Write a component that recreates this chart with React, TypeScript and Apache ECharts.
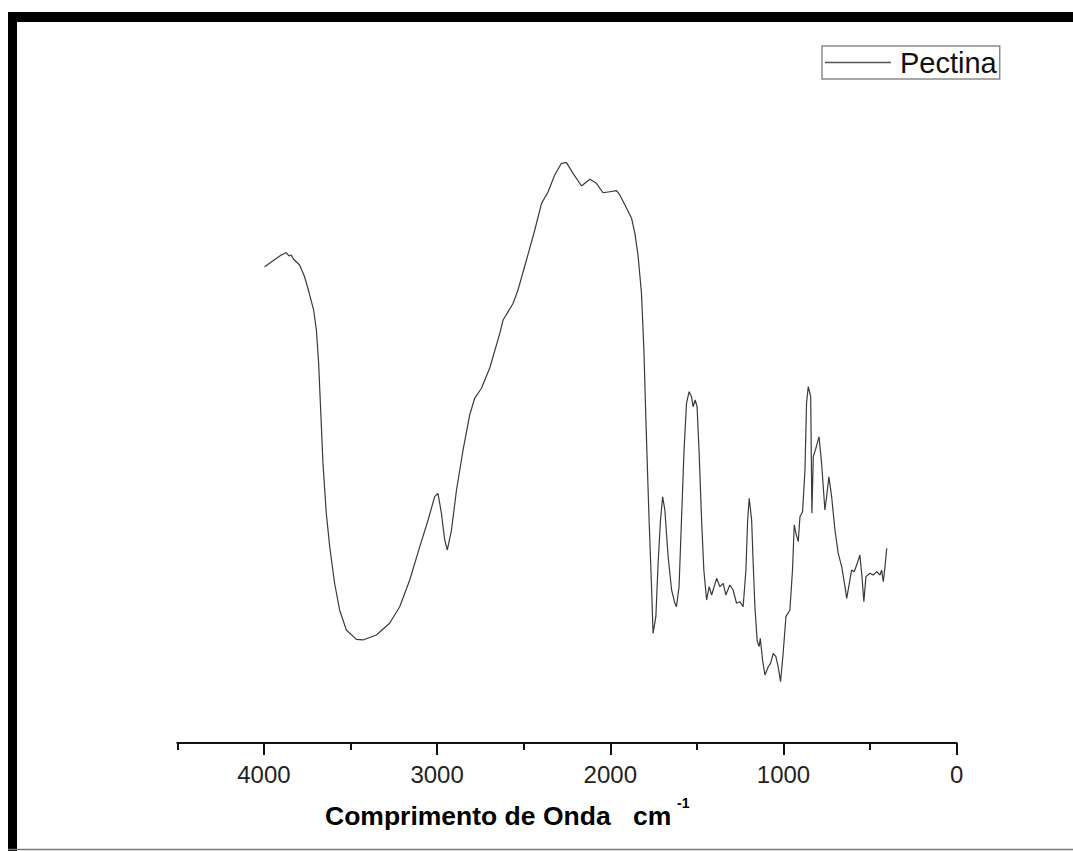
import React, { useEffect, useRef } from "react";
import * as echarts from "echarts";

// Wavenumber (cm-1)
const wavenumbers = [
  3996, 3900, 3871, 3855, 3842, 3830, 3794, 3765, 3740, 3736, 3713, 3697, 3684, 3674, 3659, 3640,
  3620, 3592, 3563, 3524, 3466, 3428, 3351, 3274, 3216, 3158, 3100, 3052, 3014, 2995, 2975, 2956,
  2941, 2917, 2888, 2850, 2812, 2783, 2744, 2696, 2638, 2619, 2561, 2533, 2484, 2436, 2397, 2359,
  2321, 2282, 2253, 2215, 2166, 2147, 2118, 2080, 2042, 2003, 1964, 1945, 1906, 1877, 1858, 1839,
  1820, 1806, 1795, 1783, 1776, 1762, 1753, 1737, 1724, 1710, 1698, 1685, 1666, 1646, 1627, 1618,
  1603, 1589, 1575, 1560, 1545, 1531, 1522, 1510, 1499, 1487, 1473, 1460, 1444, 1429, 1415, 1386,
  1367, 1348, 1333, 1310, 1291, 1271, 1252, 1233, 1217, 1207, 1198, 1184, 1175, 1165, 1152, 1141,
  1134, 1121, 1107, 1088, 1075, 1059, 1044, 1031, 1017, 1002, 986, 963, 948, 938, 928, 915,
  905, 890, 876, 867, 857, 843, 836, 828, 813, 795, 780, 761, 751, 738, 722, 703,
  684, 664, 645, 635, 620, 607, 592, 574, 559, 547, 536, 524, 501, 482, 462, 443,
  433, 424, 414, 404,
];

// Transmittance (arbitrary units)
const transmittance = [
  66.06, 67.68, 68.0, 67.55, 67.68, 67.13, 66.3, 64.67, 62.55, 62.14, 60.06, 57.28, 52.7, 47.16, 38.83, 31.9,
  27.23, 22.19, 18.45, 15.67, 14.38, 14.29, 14.98, 16.6, 18.9, 22.61, 27.23, 30.93, 34.16, 34.63, 31.86, 28.16,
  26.77, 29.54, 35.09, 40.64, 45.49, 47.81, 49.2, 52.01, 56.82, 58.67, 60.99, 62.83, 66.99, 71.15, 74.85, 76.46,
  78.78, 80.4, 80.49, 79.01, 77.25, 77.63, 78.18, 77.63, 76.32, 76.46, 76.6, 76.01, 74.16, 72.77, 70.69, 67.45,
  62.37, 54.51, 45.26, 36.02, 30.93, 21.68, 15.21, 17.52, 24.92, 30.93, 34.16, 32.32, 25.84, 21.22, 19.38, 18.9,
  21.68, 30.93, 40.18, 47.12, 48.72, 48.03, 46.64, 47.57, 46.64, 40.18, 30.93, 23.99, 19.83, 21.68, 20.53, 22.84,
  21.68, 22.15, 20.53, 21.91, 21.22, 19.38, 19.6, 18.9, 23.99, 30.93, 33.94, 30.93, 24.92, 18.86, 14.15, 13.36,
  14.52, 11.51, 9.43, 10.58, 11.05, 12.44, 11.97, 10.58, 8.5, 12.44, 17.52, 18.45, 23.99, 30.24, 29.08, 27.92,
  31.39, 32.08, 37.86, 47.12, 49.42, 48.03, 31.86, 39.71, 40.87, 42.48, 38.79, 32.32, 34.16, 36.93, 34.16, 29.54,
  26.31, 24.45, 21.68, 20.07, 22.15, 23.99, 23.76, 24.92, 26.07, 23.07, 19.6, 23.07, 23.54, 23.3, 23.76, 23.3,
  23.99, 22.37, 24.45, 27.0,
];

const xLabelValues = [0, 1000, 2000, 3000, 4000];
const seriesName = "Pectina";
const axisTitle = "Comprimento de Onda";
const unitText = "cm";
const unitExp = "-1";

const FONT = '"Liberation Sans", Arial, Helvetica, sans-serif';

export default function App() {
  const ref = useRef<HTMLDivElement>(null);

  useEffect(() => {
    if (!ref.current) return;
    const chart = echarts.init(ref.current, undefined, { renderer: "svg" });
    const data = wavenumbers.map((w, i) => [w, transmittance[i]]);

    chart.setOption({
      animation: false,
      backgroundColor: "#ffffff",
      grid: { left: 177.3, right: 116.3, top: 22, bottom: 108 },
      legend: {
        data: [{ name: seriesName, icon: "rect" }],
        left: 822,
        top: 46,
        orient: "horizontal",
        backgroundColor: "#ffffff",
        borderColor: "#8a8a8a",
        borderWidth: 1.5,
        borderRadius: 0,
        padding: [2, 3, 2, 3],
        itemWidth: 66,
        itemHeight: 1.4,
        itemGap: 0,
        itemStyle: { color: "#555" },
        textStyle: { fontFamily: FONT, fontSize: 29, color: "#111", padding: [0, 0, 0, 4] },
      },
      xAxis: {
        type: "value",
        inverse: true,
        min: 0,
        max: 4500,
        interval: 500,
        splitLine: { show: false },
        axisLine: { show: true, onZero: false, lineStyle: { color: "#111", width: 2 } },
        axisTick: { show: true, length: 7, lineStyle: { color: "#111", width: 2 } },
        axisLabel: {
          margin: 19,
          fontFamily: FONT,
          fontSize: 24,
          color: "#222",
          formatter: (v: number) => (xLabelValues.includes(v) ? String(v) : ""),
        },
      },
      yAxis: { type: "value", min: 0, max: 100, show: false },
      series: [
        {
          name: seriesName,
          type: "line",
          data,
          symbol: "none",
          smooth: false,
          lineStyle: { color: "#3a3a3a", width: 1.2 },
          itemStyle: { color: "#3a3a3a" },
        },
      ],
      graphic: [
        { type: "rect", shape: { x: 8, y: 12, width: 1065, height: 10 }, style: { fill: "#000" } },
        { type: "rect", shape: { x: 8, y: 12, width: 9, height: 839 }, style: { fill: "#000" } },
        {
          type: "line",
          shape: { x1: 8, y1: 849.5, x2: 1073, y2: 849.5 },
          style: { stroke: "#777", lineWidth: 1.5 },
        },
        {
          type: "text",
          left: 325,
          top: 802,
          style: { text: axisTitle, font: `bold 26.5px ${FONT}`, fill: "#000" },
        },
        {
          type: "text",
          left: 633,
          top: 802,
          style: { text: unitText, font: `bold 26.5px ${FONT}`, fill: "#000" },
        },
        {
          type: "text",
          left: 677,
          top: 796,
          style: { text: unitExp, font: `bold 14px ${FONT}`, fill: "#000" },
        },
      ],
    });

    // second tick set: longer major ticks at thousands
    chart.setOption({
      xAxis: [
        {},
        {
          type: "value",
          inverse: true,
          min: 0,
          max: 4500,
          interval: 500,
          position: "bottom",
          offset: 0,
          gridIndex: 0,
          axisLine: { show: false },
          splitLine: { show: false },
          axisLabel: { show: false },
          axisTick: {
            show: true,
            length: 12,
            customValues: xLabelValues,
            lineStyle: { color: "#111", width: 2 },
          },
        },
      ],
    });

    return () => chart.dispose();
  }, []);

  return (
    <div
      ref={ref}
      style={{ position: "fixed", left: 0, top: 0, width: 1073, height: 851, background: "#fff" }}
    />
  );
}
